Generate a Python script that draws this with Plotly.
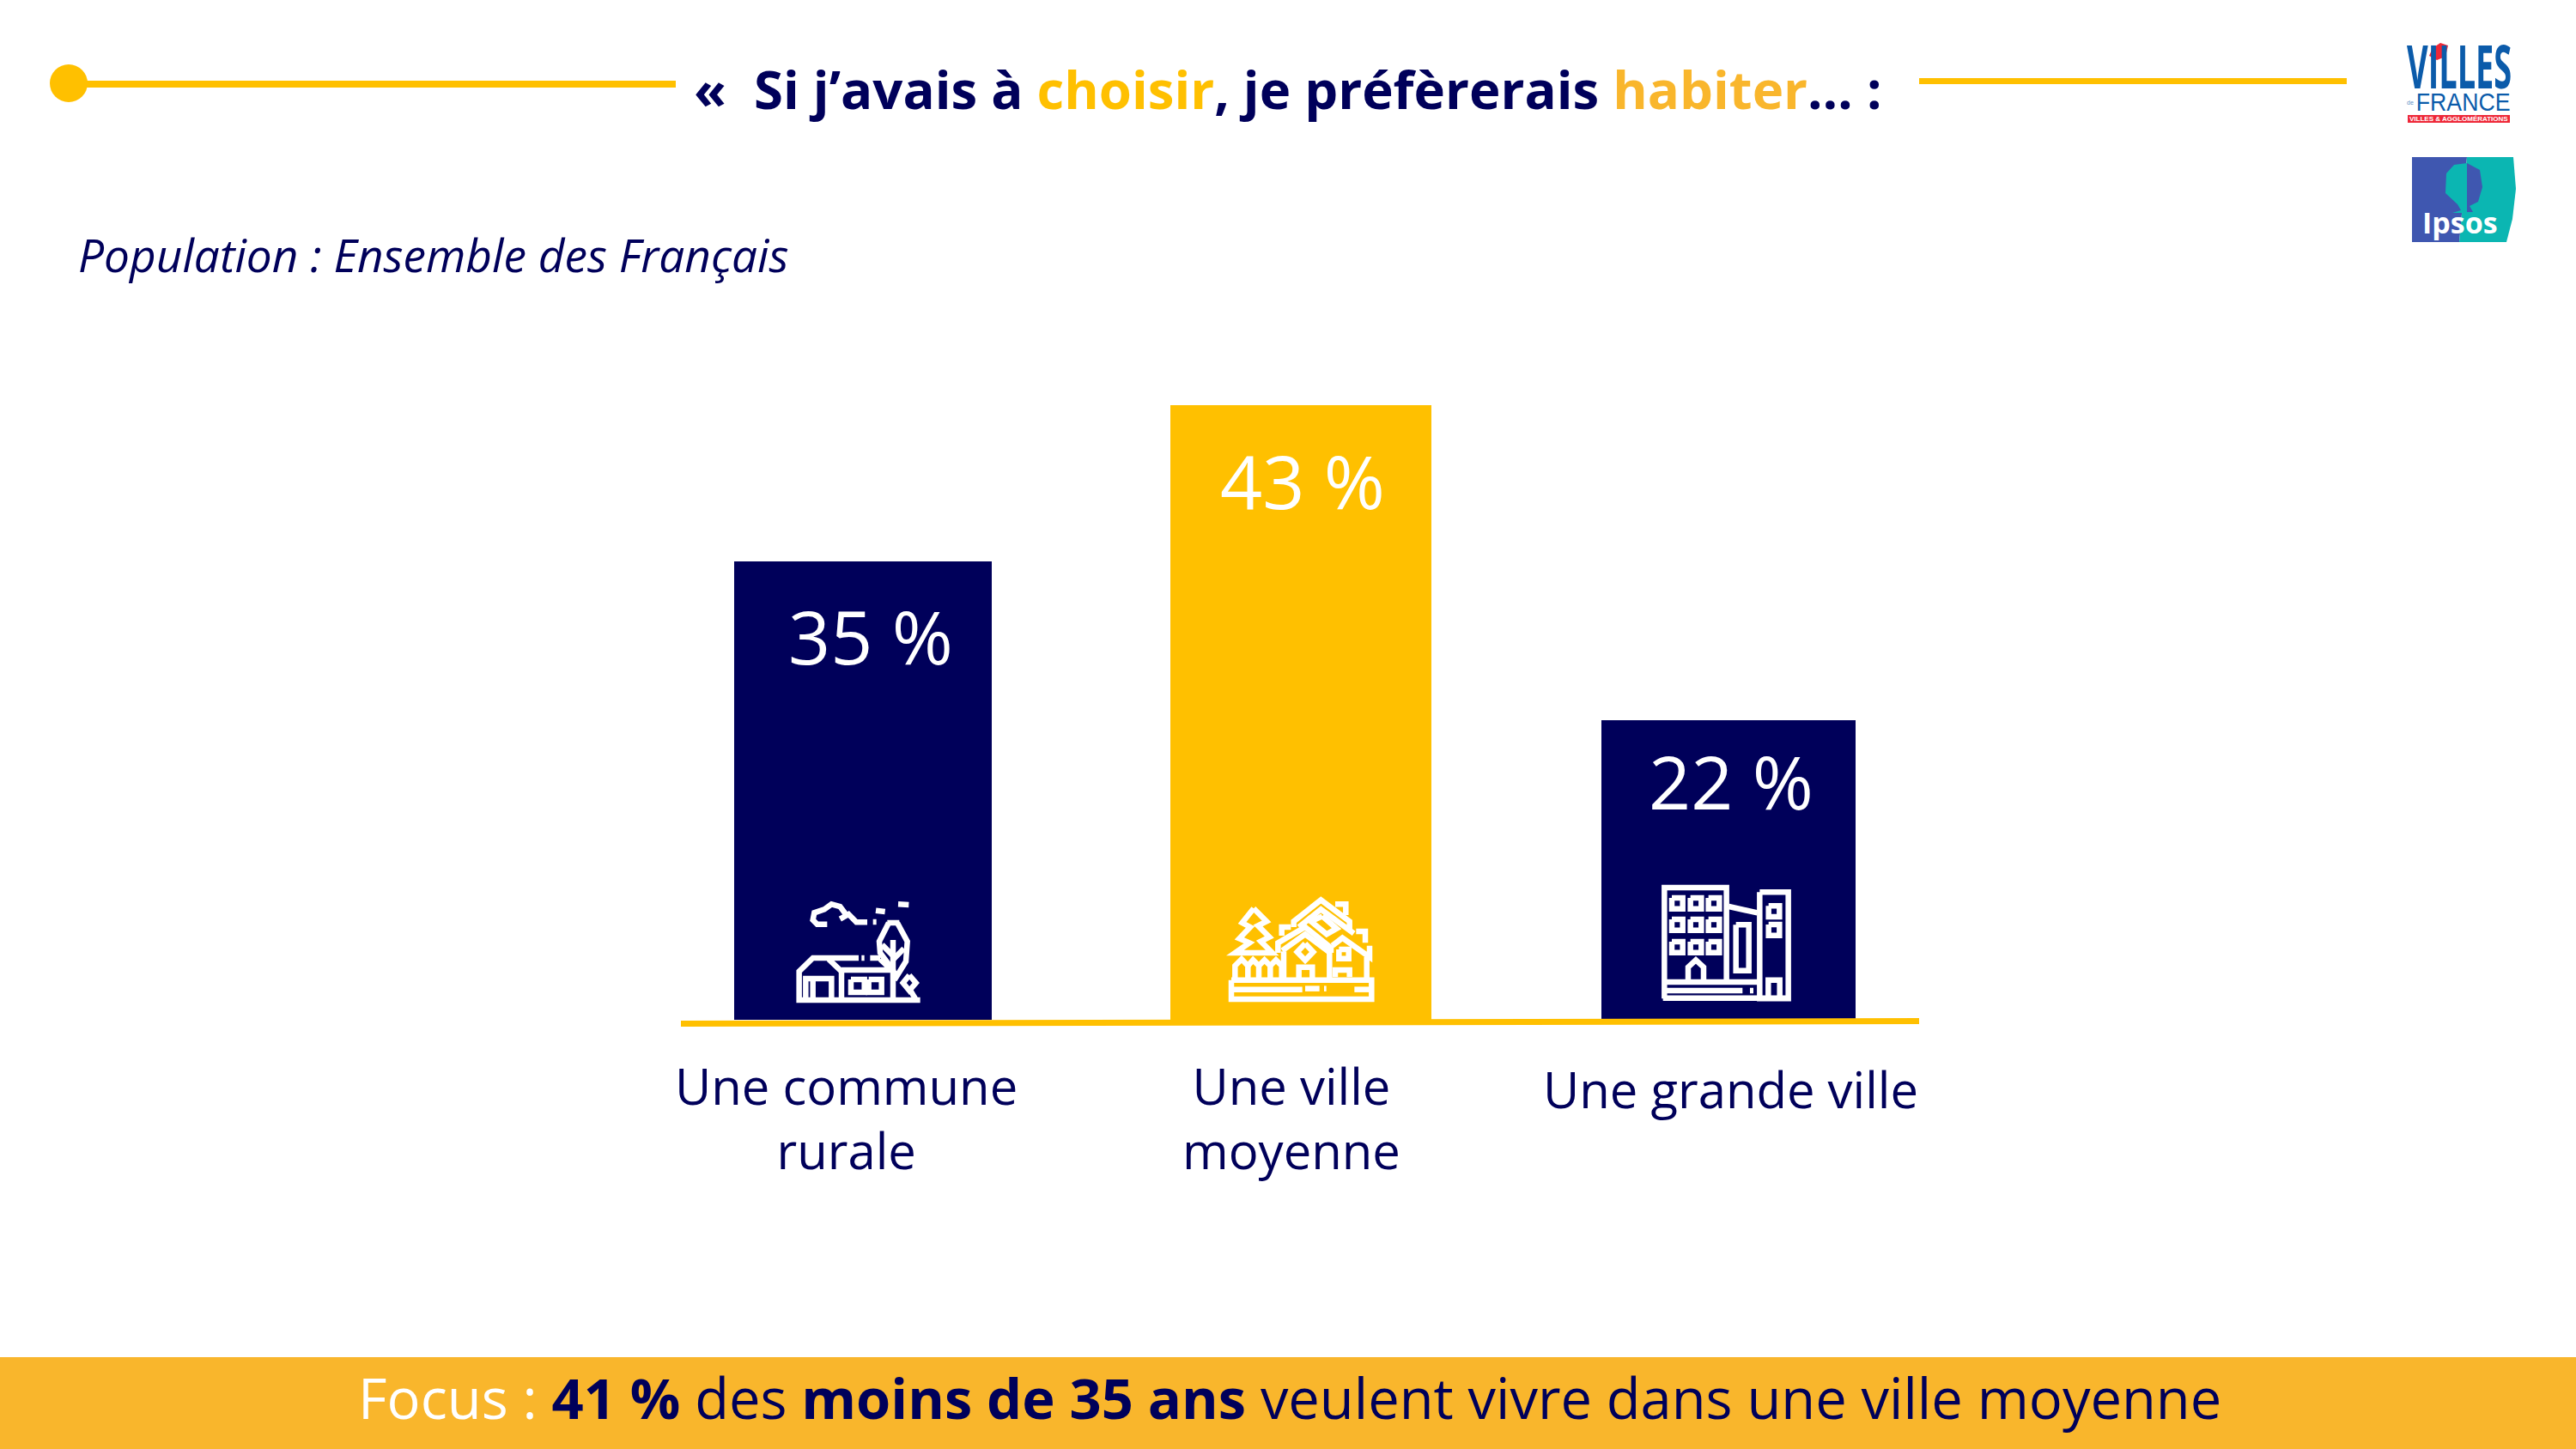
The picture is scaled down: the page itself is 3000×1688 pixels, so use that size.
import plotly.graph_objects as go

# ---------- data ----------
categories = ["Une commune rurale", "Une ville moyenne", "Une grande ville"]
category_labels = ["Une commune<br>rurale", "Une ville<br>moyenne", "Une grande ville"]
percent_values = [35, 43, 22]
# the source slide's bars are not strictly proportional to their labels: heights
drawn_heights = [35.0, 46.9, 22.9]

NAVY = "#00005A"
GOLD = "#FFC000"
ORANGE = "#F9B62C"
FONT = "Open Sans"
W, H = 3000, 1688

fx = lambda x: x / W
fy = lambda y: 1 - y / H

shapes, annotations = [], []


def rect(x0, y0, x1, y1, color):
    shapes.append(dict(type="rect", xref="paper", yref="paper", x0=fx(x0), x1=fx(x1), y0=fy(y0), y1=fy(y1),
                       fillcolor=color, line=dict(width=0), layer="above"))


def path_px(points, color=None, stroke=None, sw=0, close=False):
    d = "M" + " L".join(f"{fx(x):.5f},{fy(y):.5f}" for x, y in points) + (" Z" if close else "")
    shapes.append(dict(type="path", xref="paper", yref="paper", path=d, fillcolor=color or "rgba(0,0,0,0)",
                       line=dict(color=stroke or "rgba(0,0,0,0)", width=sw), layer="above"))


def text(x, y, s, size, color=NAVY, anchor="center", font=FONT):
    annotations.append(dict(xref="paper", yref="paper", x=fx(x), y=fy(y), text=s, showarrow=False,
                            xanchor=anchor, yanchor="middle", align="center",
                            font=dict(family=font, size=size, color=color)))


def icon(ox, oy, strokes, sw=6.5, color="white", fill=None):
    for pts in strokes:
        path_px([(ox + a / 3, oy + b / 3) for a, b in pts], stroke=color, sw=sw, color=fill)


def box(x0, y0, x1, y1):
    return [(x0, y0), (x1, y0), (x1, y1), (x0, y1), (x0, y0)]


# ---------- chart ----------
PX_PER_UNIT = 15.26
fig = go.Figure(go.Bar(
    x=categories, y=drawn_heights,
    width=[300 / 504, 304 / 504, 296 / 504],
    offset=[-152 / 504, -148 / 504, -150 / 504],
    marker=dict(color=[NAVY, GOLD, NAVY], line=dict(width=0)),
    hoverinfo="skip",
))

val_dx = [7, 6, 1]
val_dy = [-87, -87, -71]
lab_dx = [-22, -7, 0]
lab_dy = [0, 0, 4]
for i, c in enumerate(categories):
    annotations.append(dict(xref="x", yref="y", x=c, y=drawn_heights[i], xshift=val_dx[i], yshift=val_dy[i],
                            text=f"{percent_values[i]} %", showarrow=False, xanchor="center", yanchor="middle",
                            font=dict(family=FONT, size=86, color="white")))
    annotations.append(dict(xref="x", yref="paper", x=c, y=fy(1223), xshift=lab_dx[i], yshift=-lab_dy[i],
                            text=category_labels[i], showarrow=False, xanchor="center", yanchor="top", align="center",
                            font=dict(family=FONT, size=58, color=NAVY)))

# baseline
path_px([(793, 1192.5), (2235, 1189.5)], stroke=GOLD, sw=7)

# header rules
rect(90, 94, 787, 102, GOLD)
shapes.append(dict(type="circle", xref="paper", yref="paper", x0=fx(58), x1=fx(102), y0=fy(75), y1=fy(119),
                   fillcolor=GOLD, line=dict(width=0), layer="above"))
rect(2235, 91, 2733, 98, GOLD)

# title and subtitle
title = ("<b>«\u00a0\u00a0Si j’avais à <span style='color:%s'>choisir</span>, je préfèrerais "
         "<span style='color:%s'>habiter</span>… :</b>" % (GOLD, ORANGE))
text(1499, 103, title, 61.7)
text(89, 297, "<i>Population : Ensemble des Français</i>", 53.2, anchor="left")

# focus band
rect(0, 1581, 3000, 1688, ORANGE)
text(1502, 1628, "<span style='color:white'>Focus : </span><b>41 %</b> des <b>moins de 35 ans</b> "
     "veulent vivre dans une ville moyenne", 65)

# rural icon
icon(910, 1030, [
    [(160, 140), (125, 140), (110, 125), (115, 100), (150, 88), (175, 70), (205, 78), (225, 105)],
    [(205, 122), (235, 105), (262, 133), (300, 133)],
    [(330, 92), (362, 96)], [(408, 70), (445, 72)], [(320, 132), (332, 132)],
    [(270, 258), (110, 258), (62, 305), (62, 405), (485, 405)],
    [(165, 262), (210, 305), (210, 400)], [(210, 300), (385, 300), (345, 262)],
    [(280, 258), (290, 258)], [(310, 258), (345, 258)],
    [(85, 400), (85, 330), (175, 330), (175, 400)], [(110, 400), (110, 335)],
    box(243, 333, 290, 378), box(305, 333, 350, 378),
    [(375, 135), (342, 200), (345, 240), (390, 300), (390, 400)],
    [(405, 135), (440, 200), (435, 270), (395, 335)],
    [(370, 135), (412, 135)], [(390, 195), (390, 300)], [(390, 250), (352, 212)], [(392, 262), (428, 225)],
    [(447, 318), (425, 345), (447, 372), (470, 345), (447, 318)], [(450, 370), (468, 400)],
])
# town icon
icon(1420, 1030, [
    box(42, 335, 532, 402),
    [(50, 368), (290, 368)], [(300, 365), (350, 365)], [(366, 365), (374, 365)], [(472, 368), (525, 368)],
    [(120, 85), (80, 135), (108, 150), (70, 190), (105, 205), (55, 240), (185, 240), (145, 200), (175, 185), (135, 145), (165, 130), (120, 85)],
    [(55, 330), (55, 285), (78, 262), (100, 285), (100, 330)],
    [(100, 285), (118, 265), (138, 285), (138, 330)], [(138, 285), (158, 265), (178, 285), (178, 330)],
    [(178, 285), (198, 265), (218, 285), (218, 330)],
    [(205, 240), (205, 205), (300, 150), (390, 222), (390, 240)], [(220, 232), (300, 175), (385, 238)],
    [(260, 150), (260, 130), (355, 55), (455, 130), (455, 165)], [(278, 150), (355, 88), (470, 172)],
    [(360, 112), (410, 155), (375, 175), (320, 130), (360, 112)],
    [(218, 180), (218, 150), (250, 150)], [(405, 70), (442, 70), (442, 108)], [(478, 165), (510, 165), (510, 205)],
    [(225, 235), (225, 330)], [(385, 235), (385, 330)],
    [(300, 208), (328, 237), (300, 266), (272, 237), (300, 208)],
    [(278, 330), (278, 290), (325, 290), (325, 330)],
    [(395, 215), (430, 188), (525, 255), (525, 215)], [(515, 255), (515, 330)],
    box(418, 228, 452, 260), [(405, 325), (405, 300), (455, 300), (455, 325)],
])
# city icon
city = [
    [(55, 430), (55, 42), (272, 42), (272, 370)], [(55, 372), (385, 372)], [(50, 428), (490, 428)],
    box(388, 58, 488, 430), [(280, 108), (380, 130)],
    box(305, 172, 350, 332), [(138, 365), (138, 320), (165, 295), (192, 320), (192, 365)],
    [(60, 402), (328, 402)], [(354, 402), (366, 402)], [(418, 420), (418, 365), (458, 365), (458, 420)],
]
for cx, cy in [(100, 97), (165, 97), (228, 97), (100, 172), (165, 172), (228, 172), (100, 250), (165, 250), (228, 250),
               (438, 125), (438, 190)]:
    city.append(box(cx - 19, cy - 19, cx + 19, cy + 19))
icon(1920, 1020, city)

# Villes de France logo
text(2864, 76, "<b>VILLES</b>", 69, color="#0B5BAA")
path_px([(2833, 56), (2842, 50), (2851, 53), (2848, 66), (2838, 70), (2829, 65)], color="#EE2737", close=True)
text(2868, 118, "FRANCE", 30, color="#0B5BAA", font="Liberation Sans")
text(2807, 119, "de", 7, color="#5F8FC6", font="Liberation Sans")
rect(2804, 134, 2923, 143, "#EE2737")
text(2863, 138.5, "<b>VILLES & AGGLOMÉRATIONS</b>", 8, color="white", font="Liberation Sans")

# Ipsos logo
path_px([(2809, 183), (2873, 183), (2864, 282), (2809, 282)], color="#3F57B0", close=True)
path_px([(2873, 183), (2927, 183), (2930, 220), (2926, 255), (2919, 282), (2864, 282)], color="#0BB6B2", close=True)
path_px([(2873, 190), (2858, 192), (2849, 202), (2848, 225), (2862, 238), (2866, 245), (2856, 248), (2873, 248)], color="#0BB6B2", close=True)
path_px([(2873, 190), (2888, 198), (2891, 218), (2886, 235), (2876, 240), (2880, 247), (2873, 247)], color="#3F57B0", close=True)
text(2865, 259, "<b>Ipsos</b>", 34, color="white")

fig.update_layout(
    width=W, height=H, margin=dict(l=0, r=0, t=0, b=0), showlegend=False, bargap=0,
    paper_bgcolor="white", plot_bgcolor="white",
    xaxis=dict(domain=[fx(755), fx(2267)], range=[-0.5, 2.5], visible=False, type="category",
               categoryorder="array", categoryarray=categories),
    yaxis=dict(domain=[fy(1188), fy(400)], range=[0, 788 / PX_PER_UNIT], visible=False),
    shapes=shapes, annotations=annotations,
)
# the logo lettering is condensed and no condensed face is installed: squeeze those two words horizontally
post = """
document.body.style.margin='0';document.documentElement.style.overflow='hidden';
var squeeze={'VILLES':0.55,'FRANCE':0.89};
document.querySelectorAll('text.annotation-text').forEach(function(t){
  var s=squeeze[t.textContent];
  if(s){var b=t.getBBox(),c=b.x+b.width/2;
    t.setAttribute('transform','translate('+c+',0) scale('+s+',1) translate('+(-c)+',0)');}
});
"""
fig.write_html("out.html", config=dict(displayModeBar=False), post_script=post)
